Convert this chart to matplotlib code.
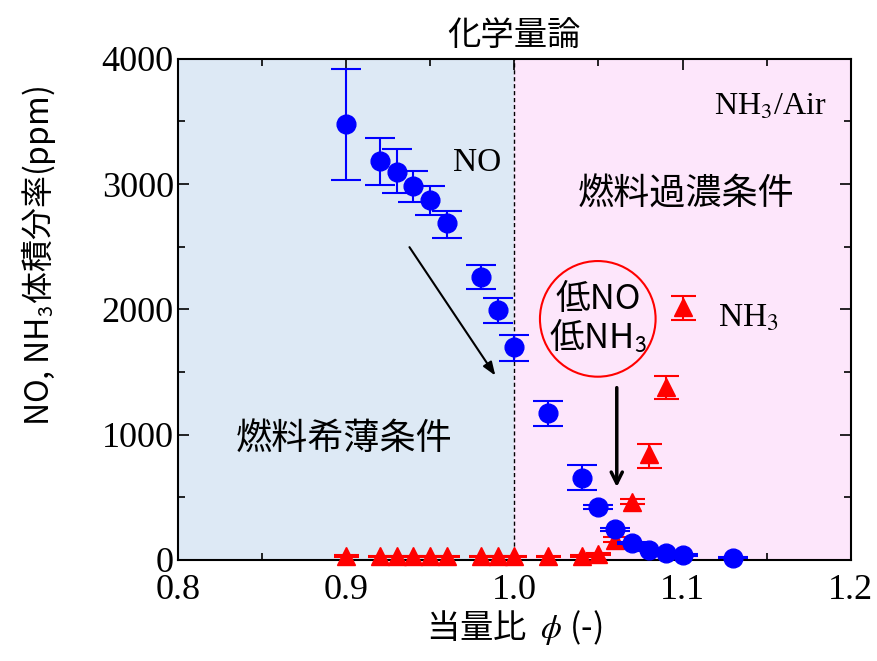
import numpy as np
import matplotlib
matplotlib.use('Agg')
import matplotlib.pyplot as plt
from matplotlib.ticker import MultipleLocator

plt.rcParams['mathtext.fontset'] = 'stix'

jp = 'Noto Sans CJK JP'
serif = 'Liberation Serif'

# NO (blue circles)
no_phi = [0.90, 0.92, 0.93, 0.94, 0.95, 0.96, 0.98, 0.99, 1.00, 1.02, 1.04,
          1.05, 1.06, 1.07, 1.08, 1.09, 1.10, 1.13]
no_ppm = [3480, 3186, 3098, 2986, 2874, 2690, 2260, 1996, 1701, 1174, 655,
          423, 245, 136, 80, 56, 40, 16]
no_err_up = [440, 183, 183, 120, 112, 96, 95, 96, 95, 96, 103,
             15, 12, 10, 8, 6, 6, 5]
no_err_lo = [450, 192, 168, 128, 120, 119, 96, 104, 112, 104, 96,
             15, 12, 10, 8, 6, 6, 5]

# NH3 (red triangles)
nh3_phi = [0.90, 0.92, 0.93, 0.94, 0.95, 0.96, 0.98, 0.99, 1.00, 1.02, 1.04,
           1.05, 1.06, 1.07, 1.08, 1.09, 1.10]
nh3_ppm = [30, 28, 28, 28, 28, 28, 28, 28, 28, 28, 30,
           50, 160, 463, 846, 1381, 2020]
nh3_err_up = [5, 5, 5, 5, 5, 5, 5, 5, 5, 5, 5,
              8, 20, 20, 80, 88, 88]
nh3_err_lo = [5, 5, 5, 5, 5, 5, 5, 5, 5, 5, 5,
              8, 20, 20, 112, 96, 104]

fig = plt.figure(figsize=(8.77, 6.61), dpi=100)
ax = fig.add_axes([0.203, 0.153, 0.767, 0.758])

ax.axvspan(0.8, 1.0, color='#dde9f5', zorder=0)
ax.axvspan(1.0, 1.2, color='#fde6fb', zorder=0)
ax.axvline(1.0, color='black', lw=1, ls=(0, (3, 2)), zorder=1)

ax.errorbar(no_phi, no_ppm, yerr=[no_err_lo, no_err_up], fmt='o', color='#0000ff',
            ms=13.5, capsize=11, elinewidth=1.5, capthick=1.5, zorder=4, clip_on=False)
ax.errorbar(nh3_phi, nh3_ppm, yerr=[nh3_err_lo, nh3_err_up], fmt='^', color='#ff0000',
            ms=13.5, capsize=9, elinewidth=1.5, capthick=1.5, zorder=3, clip_on=False)

ax.set_xlim(0.8, 1.2)
ax.set_ylim(0, 4000)
ax.xaxis.set_major_locator(MultipleLocator(0.1))
ax.xaxis.set_minor_locator(MultipleLocator(0.05))
ax.yaxis.set_major_locator(MultipleLocator(1000))
ax.yaxis.set_minor_locator(MultipleLocator(500))
ax.tick_params(which='both', direction='in', top=True, right=True, width=1.2)
ax.tick_params(which='major', length=8, labelsize=26)
ax.tick_params(axis='x', which='major', pad=10)
ax.tick_params(axis='y', which='major', pad=3)
ax.tick_params(which='minor', length=5)
ax.set_xticklabels(['%.1f' % v for v in ax.get_xticks()], family=serif)
ax.set_yticklabels(['%d' % v for v in ax.get_yticks()], family=serif)
for s in ax.spines.values():
    s.set_linewidth(1.5)

ax.set_xlabel('当量比  $\\phi$ (-)', family=jp, fontsize=24, labelpad=1)
ax.set_ylabel('NO, NH$_\\mathsf{3}$体積分率(ppm)', family=jp, fontsize=23)
ax.yaxis.set_label_coords(-0.178, 0.607)
ax.set_title('化学量論', family=jp, fontsize=24, fontweight='normal', pad=10)

ax.text(0.978, 3170, 'NO', family=serif, fontsize=24, ha='center', va='center')
ax.text(1.152, 3617, 'NH$_3$/Air', family=serif, fontsize=23, ha='center', va='center')
ax.text(1.139, 1932, 'NH$_3$', family=serif, fontsize=24, ha='center', va='center')
ax.text(1.102, 2914, '燃料過濃条件', family=jp, fontsize=26, ha='center', va='center')
ax.text(0.899, 958, '燃料希薄条件', family=jp, fontsize=26, ha='center', va='center')
ax.text(1.0496, 1924, '低NO\n低NH$_\\mathsf{3}$', family=jp, fontsize=25,
        ha='center', va='center', linespacing=1.0, zorder=6,
        bbox=dict(boxstyle='circle,pad=0.25', fc='none', ec='#ff0000', lw=1.5))

ax.annotate('', xy=(0.9896, 1453), xytext=(0.9367, 2515),
            arrowprops=dict(arrowstyle='-|>,head_length=0.8,head_width=0.3',
                            color='black', lw=1.5), zorder=5)
ax.annotate('', xy=(1.0609, 559), xytext=(1.0609, 1397),
            arrowprops=dict(arrowstyle='->,head_length=0.8,head_width=0.4',
                            color='black', lw=2.5), zorder=5)

fig.savefig('out.png', dpi=100)
